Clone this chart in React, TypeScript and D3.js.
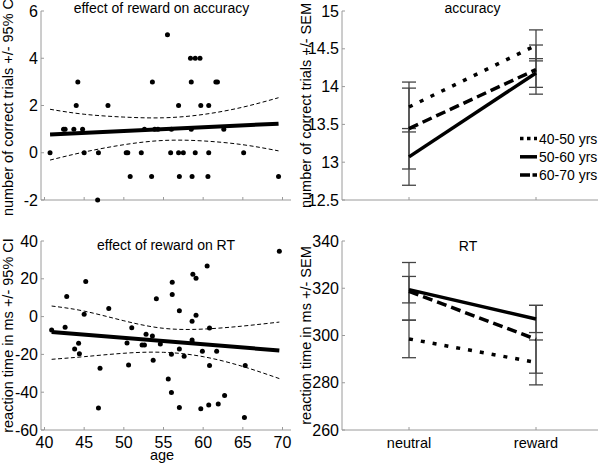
import React from 'react';
import * as d3 from 'd3';

const FONT = '"Liberation Sans", Arial, Helvetica, sans-serif';
const AXIS = '#9a9a9a';

// ---------- scatter: effect of reward on accuracy ----------
const accAge = [40.7, 42.4, 42.6, 43.7, 44.0, 44.2, 44.8, 45.0, 46.7, 46.8, 48.0, 50.3, 50.5, 50.8, 52.2, 52.6, 53.5, 53.6, 53.9, 54.3, 55.5, 55.9, 56.0, 56.9, 56.9, 57.0, 57.5, 58.4, 58.5, 58.5, 58.6, 59.0, 59.0, 59.6, 59.7, 60.6, 60.7, 60.7, 61.6, 61.8, 62.6, 65.1, 69.5];
const accVal = [0, 1, 1, 1, 2, 3, 1, 0, -2, 0, 2, 0, 0, -1, 0, 1, -1, 3, 1, 1, 5, 0, 1, 2, 0, -1, 0, 4, 3, 1, -1, 4, 0, 4, 2, -1, 2, 0, 3, 3, 1, 0, -1];
const accFitX = [40.7, 69.5];
const accFitY = [0.77, 1.23];
const accCiX = [40.7, 45, 50, 55, 60, 65, 69.5];
const accCiUpper = [1.84, 1.63, 1.51, 1.48, 1.62, 1.93, 2.33];
const accCiLower = [-0.31, 0.03, 0.34, 0.52, 0.5, 0.34, 0.08];

// ---------- scatter: effect of reward on RT ----------
const rtAge = [40.9, 42.8, 42.6, 44.3, 43.8, 44.4, 45.2, 45.0, 47.0, 46.8, 48.1, 51.0, 50.4, 50.6, 52.3, 52.6, 52.8, 53.6, 54.1, 53.7, 54.6, 55.6,
  69.6, 60.5, 58.7, 59.1, 56.1, 56.1, 57.0, 59.1, 58.6, 60.8, 58.6, 58.6, 57.0, 56.0, 57.6, 59.9, 61.7, 60.8, 65.3, 56.0, 57.0, 59.7, 60.7, 61.9, 62.7, 65.2];
const rtVal = [-7.1, 10.7, -5.7, -14.1, -17.1, -19.6, 18.6, 1.2, -27.3, -48.4, 4.3, -5.9, -14, -25.6, -15, -15, -9.4, -10.3, 9.4, -23.1, -14.5, -33,
  34.6, 26.8, 22.4, 20.3, 18.2, 11.7, 3.1, 0.7, -2.4, -6, -12.4, -13.6, -17.1, -19.9, -21, -18.3, -18.3, -25.9, -25.9, -40.2, -48.1, -48.8, -46.8, -46.3, -41.7, -53.4];
const rtFitX = [40.9, 69.6];
const rtFitY = [-8.2, -17.9];
const rtCiX = [40.9, 45, 50, 55, 60, 65, 69.6];
const rtCiUpper = [5.6, 2.9, -2.2, -6.2, -6.6, -5.0, -2.9];
const rtCiLower = [-22.6, -21.2, -19.4, -18.9, -21.2, -26.4, -32.8];

// ---------- group means ----------
const conditions = ['neutral', 'reward'];
const groups = ['40-50 yrs', '50-60 yrs', '60-70 yrs'];
const accMean = [[13.73, 14.545], [13.07, 14.18], [13.445, 14.225]];
const accSem = [[0.33, 0.205], [0.375, 0.19], [0.535, 0.325]];
const rtMean = [[298.55, 288.6], [319.4, 307.0], [318.7, 298.4]];
const rtSem = [[7.95, 9.5], [5.6, 5.75], [12.2, 14.35]];

const accTicks = [-2, 0, 2, 4, 6];
const rtTicks = [-60, -40, -20, 0, 20, 40];
const ageTicks = [40, 45, 50, 55, 60, 65, 70];
const accMeanTicks = [12.5, 13, 13.5, 14, 14.5, 15];
const rtMeanTicks = [260, 280, 300, 320, 340];

const groupDash = ['4,8', null, '10,5'];
const legendDash = ['3.5,3.5', null, '10,2.5'];

function YAxis({ x, scale, ticks }: { x: number; scale: any; ticks: number[] }) {
  const [r0, r1] = scale.range();
  return (
    <g>
      <line x1={x} x2={x} y1={r0} y2={r1} stroke={AXIS} strokeWidth={1} />
      {ticks.map((t) => (
        <g key={t}>
          <line x1={x} x2={x + 3} y1={scale(t)} y2={scale(t)} stroke={AXIS} />
          <text x={x - 3} y={scale(t)} textAnchor="end" dominantBaseline="central" fontSize={16} fontFamily={FONT}>
            {String(t)}
          </text>
        </g>
      ))}
    </g>
  );
}

function XAxisLine({ y, x0, x1, ticks }: { y: number; x0: number; x1: number; ticks: number[] }) {
  return (
    <g>
      <line x1={x0} x2={x1} y1={y} y2={y} stroke={AXIS} strokeWidth={1} />
      {ticks.map((t, i) => (
        <line key={i} x1={t} x2={t} y1={y} y2={y - 3} stroke={AXIS} />
      ))}
    </g>
  );
}

function Scatter({ ages, vals, fitX, fitY, ciX, ciU, ciL, y, yTicks, title, titleX, titleY, label, showX }: any) {
  const x = d3.scaleLinear().domain([39.56, 71.07]).range([41, 291]);
  const line = d3.line<[number, number]>().x((d) => x(d[0])).y((d) => y(d[1]));
  const curve = d3.line<[number, number]>().x((d) => x(d[0])).y((d) => y(d[1])).curve(d3.curveNatural);
  const [yb, yt] = y.range();
  return (
    <g>
      <YAxis x={41} scale={y} ticks={yTicks} />
      <XAxisLine y={yb} x0={41} x1={291} ticks={ageTicks.map((a) => x(a))} />
      {showX &&
        ageTicks.map((a) => (
          <text key={a} x={x(a)} y={447.5} textAnchor="middle" fontSize={16} fontFamily={FONT}>
            {a}
          </text>
        ))}
      <path d={curve(ciX.map((a: number, i: number) => [a, ciU[i]]))!} fill="none" stroke="#000" strokeWidth={1} strokeDasharray="4,2.5" />
      <path d={curve(ciX.map((a: number, i: number) => [a, ciL[i]]))!} fill="none" stroke="#000" strokeWidth={1} strokeDasharray="4,2.5" />
      {ages.map((a: number, i: number) => (
        <circle key={i} cx={x(a)} cy={y(vals[i])} r={2.5} fill="#000" />
      ))}
      <path d={line(fitX.map((a: number, i: number) => [a, fitY[i]]))!} fill="none" stroke="#000" strokeWidth={4} />
      <text x={titleX} y={titleY} textAnchor="middle" fontSize={14} fontFamily={FONT}>
        {title}
      </text>
      <text transform={`translate(7.5,${(yb + yt) / 2}) rotate(-90)`} textAnchor="middle" dominantBaseline="central" fontSize={14.5} fontFamily={FONT}>
        {label}
      </text>
    </g>
  );
}

function Means({ mean, sem, y, yTicks, title, titleX, titleY, label, showX, legend }: any) {
  const x = d3.scaleLinear().domain([0, 1]).range([409, 536]);
  const [yb, yt] = y.range();
  const line = d3.line<number>().x((_, i) => x(i)).y((d) => y(d));
  return (
    <g>
      <YAxis x={342} scale={y} ticks={yTicks} />
      <XAxisLine y={yb} x0={342} x1={598} ticks={conditions.map((_, i) => x(i))} />
      {showX &&
        conditions.map((c, i) => (
          <text key={c} x={x(i)} y={447.5} textAnchor="middle" fontSize={14.5} fontFamily={FONT}>
            {c}
          </text>
        ))}
      {mean.map((g: number[], gi: number) =>
        g.map((m, ci) => {
          const cx = x(ci);
          const hi = y(m + sem[gi][ci]);
          const lo = y(m - sem[gi][ci]);
          return (
            <g key={`${gi}-${ci}`} stroke="#444" strokeWidth={1.3}>
              <line x1={cx} x2={cx} y1={hi} y2={lo} />
              <line x1={cx - 7} x2={cx + 7} y1={hi} y2={hi} />
              <line x1={cx - 7} x2={cx + 7} y1={lo} y2={lo} />
            </g>
          );
        })
      )}
      {mean.map((g: number[], gi: number) => (
        <path key={gi} d={line(g)!} fill="none" stroke="#000" strokeWidth={3.5} strokeDasharray={groupDash[gi] || undefined} />
      ))}
      {legend &&
        groups.map((gname, gi) => {
          const ly = 138.5 + gi * 18.3;
          return (
            <g key={gname}>
              <line x1={520} x2={537} y1={ly} y2={ly} stroke="#000" strokeWidth={3.5} strokeDasharray={legendDash[gi] || undefined} />
              <text x={539} y={ly} dominantBaseline="central" fontSize={14} fontFamily={FONT}>
                {gname}
              </text>
            </g>
          );
        })}
      <text x={titleX} y={titleY} textAnchor="middle" fontSize={14} fontFamily={FONT}>
        {title}
      </text>
      <text transform={`translate(306,${(yb + yt) / 2}) rotate(-90)`} textAnchor="middle" dominantBaseline="central" fontSize={14.5} fontFamily={FONT}>
        {label}
      </text>
    </g>
  );
}

export default function App() {
  const yAcc = d3.scaleLinear().domain([-2, 6]).range([200, 11]);
  const yRt = d3.scaleLinear().domain([-60, 40]).range([430, 241]);
  const yAccM = d3.scaleLinear().domain([12.5, 15]).range([200, 11]);
  const yRtM = d3.scaleLinear().domain([260, 340]).range([430, 241]);
  return (
    <div style={{ position: 'absolute', left: 0, top: 0 }}>
      <svg width={600} height={464} style={{ display: 'block', background: '#fff' }}>
        <Scatter ages={accAge} vals={accVal} fitX={accFitX} fitY={accFitY} ciX={accCiX} ciU={accCiUpper} ciL={accCiLower}
          y={yAcc} yTicks={accTicks} title="effect of reward on accuracy" titleX={161.5} titleY={12.5} label="number of correct trials +/- 95% CI" showX={false} />
        <Scatter ages={rtAge} vals={rtVal} fitX={rtFitX} fitY={rtFitY} ciX={rtCiX} ciU={rtCiUpper} ciL={rtCiLower}
          y={yRt} yTicks={rtTicks} title="effect of reward on RT" titleX={166} titleY={250} label="reaction time in ms +/- 95% CI" showX={true} />
        <text x={162} y={460} textAnchor="middle" fontSize={14.5} fontFamily={FONT}>age</text>
        <Means mean={accMean} sem={accSem} y={yAccM} yTicks={accMeanTicks} title="accuracy" titleX={472.5} titleY={12.5}
          label="number of correct trials +/- SEM" showX={false} legend={true} />
        <Means mean={rtMean} sem={rtSem} y={yRtM} yTicks={rtMeanTicks} title="RT" titleX={468} titleY={250.5}
          label="reaction time in ms +/- SEM" showX={true} legend={false} />
      </svg>
    </div>
  );
}
